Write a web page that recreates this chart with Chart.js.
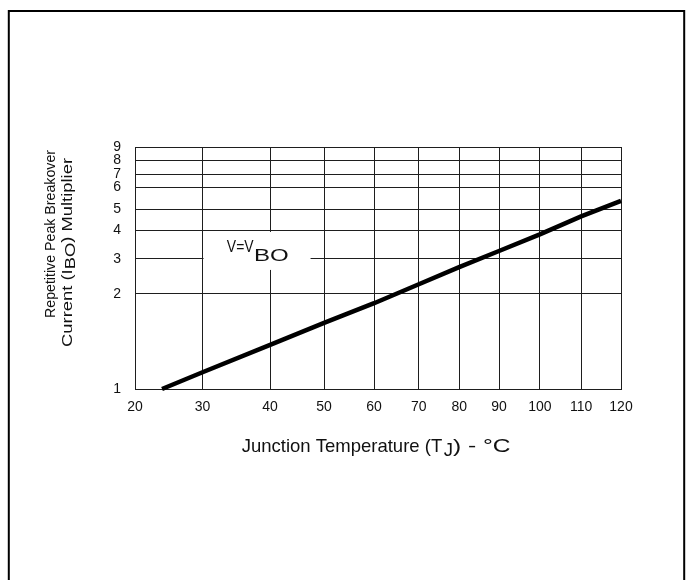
<!DOCTYPE html>
<html><head><meta charset="utf-8">
<script src="https://cdn.jsdelivr.net/npm/chart.js@4.4.0/dist/chart.umd.min.js"></script>
<style>html,body{margin:0;padding:0;background:#fff}#wrap{position:relative;width:686px;height:580px}canvas{display:block}</style>
</head><body><div id="wrap"><canvas id="c" width="686" height="580"></canvas></div>
<script>
// ---- data ----
const xTicks = [20, 30, 40, 50, 60, 70, 80, 90, 100, 110, 120];
const yTicks = [1, 2, 3, 4, 5, 6, 7, 8, 9];
const temperatureC = [24, 30, 40, 50, 60, 70, 80, 90, 100, 110, 120];
const multiplier = [1.0, 1.13, 1.38, 1.62, 1.87, 2.24, 2.73, 3.25, 3.84, 4.64, 5.36];
const annotationMain = 'V=V';
const annotationSub = 'BO';
const annotationAt = [33.6, 3.22];
const xTitleParts = ['Junction Temperature (T', 'J', ') - °C'];
const yTitleLine1 = 'Repetitive Peak Breakover';
const yTitleLine2 = ['Current (I', 'BO', ') Multiplier'];

// ---- axis layout: fraction of axis length at each tick, as drawn in the reference ----
const xTickFrac = [0, 0.139, 0.278, 0.389, 0.492, 0.584, 0.667, 0.749, 0.833, 0.918, 1];
const yTickFrac = [0, 0.3926, 0.5372, 0.6558, 0.7426, 0.8335, 0.8884, 0.9450, 1];
const AXIS_MAPS = {
  x: { ticks: xTicks, frac: xTickFrac, log: false },
  y: { ticks: yTicks, frac: yTickFrac, log: true }
};

class PiecewiseScale extends Chart.LinearScale {
  static id = 'piecewise';
  determineDataLimits() {
    const m = AXIS_MAPS[this.id];
    this.min = m.ticks[0];
    this.max = m.ticks[m.ticks.length - 1];
  }
  buildTicks() { return AXIS_MAPS[this.id].ticks.map(v => ({ value: v })); }
  _t(v) { return AXIS_MAPS[this.id].log ? Math.log(Math.max(v, 1e-9)) : v; }
  _fracFor(v) {
    const m = AXIS_MAPS[this.id], t = m.ticks, f = m.frac;
    let i = 0;
    while (i < t.length - 2 && v > t[i + 1]) i++;
    const a = this._t(t[i]), b = this._t(t[i + 1]);
    return f[i] + (this._t(v) - a) / (b - a) * (f[i + 1] - f[i]);
  }
  getPixelForValue(v) {
    const fr = this._fracFor(v);
    return this.isHorizontal() ? this.left + fr * this.width : this.bottom - fr * this.height;
  }
  getValueForPixel(p) {
    const fr = this.isHorizontal() ? (p - this.left) / this.width : (this.bottom - p) / this.height;
    const m = AXIS_MAPS[this.id], t = m.ticks, f = m.frac;
    let i = 0;
    while (i < f.length - 2 && fr > f[i + 1]) i++;
    const a = this._t(t[i]), b = this._t(t[i + 1]);
    const u = a + (fr - f[i]) / (f[i + 1] - f[i]) * (b - a);
    return m.log ? Math.exp(u) : u;
  }
}
Chart.register(PiecewiseScale);

const FONT = "'Liberation Sans', Arial, Helvetica, sans-serif";
const INK = '#111';
const GRID = '#1e1e1e';

function stretched(ctx, text, x, y, sx) {
  const w = ctx.measureText(text).width;
  ctx.save();
  ctx.translate(x, y);
  ctx.scale(sx, 1);
  ctx.fillText(text, 0, 0);
  ctx.restore();
  return w * sx;
}

const decor = {
  id: 'decor',
  afterDatasetsDraw(chart) {
    const { ctx, scales: { x, y } } = chart;
    const ax = x.getPixelForValue(annotationAt[0]);
    const ay = y.getPixelForValue(annotationAt[1]);
    ctx.save();
    ctx.fillStyle = '#fff';
    const boxL = x.getPixelForValue(30) + 1;
    ctx.fillRect(boxL, ay - 20, 107, 38);
    ctx.fillStyle = INK;
    ctx.textBaseline = 'alphabetic';
    ctx.textAlign = 'left';
    ctx.font = '16px ' + FONT;
    const w1 = stretched(ctx, annotationMain, ax, ay, 0.87);
    stretched(ctx, annotationSub, ax + w1 + 0.5, ay + 9, 1.5);
    ctx.restore();
  },
  afterDraw(chart) {
    const { ctx } = chart;
    ctx.save();
    // outer frame
    ctx.strokeStyle = '#000';
    ctx.lineWidth = 2;
    ctx.beginPath();
    ctx.moveTo(8.8, 580);
    ctx.lineTo(8.8, 11);
    ctx.lineTo(684.2, 11);
    ctx.lineTo(684.2, 580);
    ctx.stroke();

    ctx.fillStyle = INK;
    ctx.textAlign = 'left';
    ctx.textBaseline = 'alphabetic';

    // x title
    ctx.font = '18.5px ' + FONT;
    let px = 241.7;
    const by = 451.5;
    px += stretched(ctx, xTitleParts[0], px, by, 1);
    px += stretched(ctx, xTitleParts[1], px + 1.5, by + 4, 1) + 1.5;
    stretched(ctx, xTitleParts[2], px, by, 1.33);

    // y title (rotated)
    ctx.font = '14px ' + FONT;
    const n1 = ctx.measureText(yTitleLine1).width;
    ctx.save();
    ctx.translate(54.5, 234);
    ctx.rotate(-Math.PI / 2);
    ctx.scale(168 / n1, 1);
    ctx.fillText(yTitleLine1, -n1 / 2, 0);
    ctx.restore();

    const parts = yTitleLine2.map(s => ctx.measureText(s).width);
    const n2 = parts[0] + parts[1] + parts[2];
    ctx.save();
    ctx.translate(71.5, 252.5);
    ctx.rotate(-Math.PI / 2);
    ctx.scale(189 / n2, 1);
    let lx = -n2 / 2;
    ctx.fillText(yTitleLine2[0], lx, 0); lx += parts[0];
    ctx.fillText(yTitleLine2[1], lx, 3.7); lx += parts[1];
    ctx.fillText(yTitleLine2[2], lx, 0);
    ctx.restore();

    ctx.restore();
  }
};

new Chart(document.getElementById('c').getContext('2d'), {
  type: 'line',
  data: {
    datasets: [{
      data: temperatureC.map((t, i) => ({ x: t, y: multiplier[i] })),
      borderColor: '#000',
      borderWidth: 4.5,
      pointRadius: 0,
      tension: 0,
      fill: false,
      borderCapStyle: 'butt'
    }]
  },
  options: {
    responsive: false,
    animation: false,
    events: [],
    layout: { padding: { top: 147, right: 65, left: 0, bottom: 0 } },
    plugins: { legend: { display: false }, tooltip: { enabled: false } },
    scales: {
      x: {
        type: 'piecewise',
        position: 'bottom',
        afterFit: s => { s.height = 191; },
        grid: { color: GRID, lineWidth: 1, drawTicks: false },
        border: { color: GRID, width: 1 },
        ticks: { autoSkip: false, maxRotation: 0, padding: 10, color: INK,
                 font: { family: FONT, size: 14 }, callback: v => String(v) }
      },
      y: {
        type: 'piecewise',
        position: 'left',
        afterFit: s => { s.width = 135; },
        grid: { color: GRID, lineWidth: 1, drawTicks: false },
        border: { color: GRID, width: 1 },
        ticks: { autoSkip: false, padding: 14, color: INK,
                 font: { family: FONT, size: 14 }, callback: v => String(v) }
      }
    }
  },
  plugins: [decor]
});
</script>
</body></html>
